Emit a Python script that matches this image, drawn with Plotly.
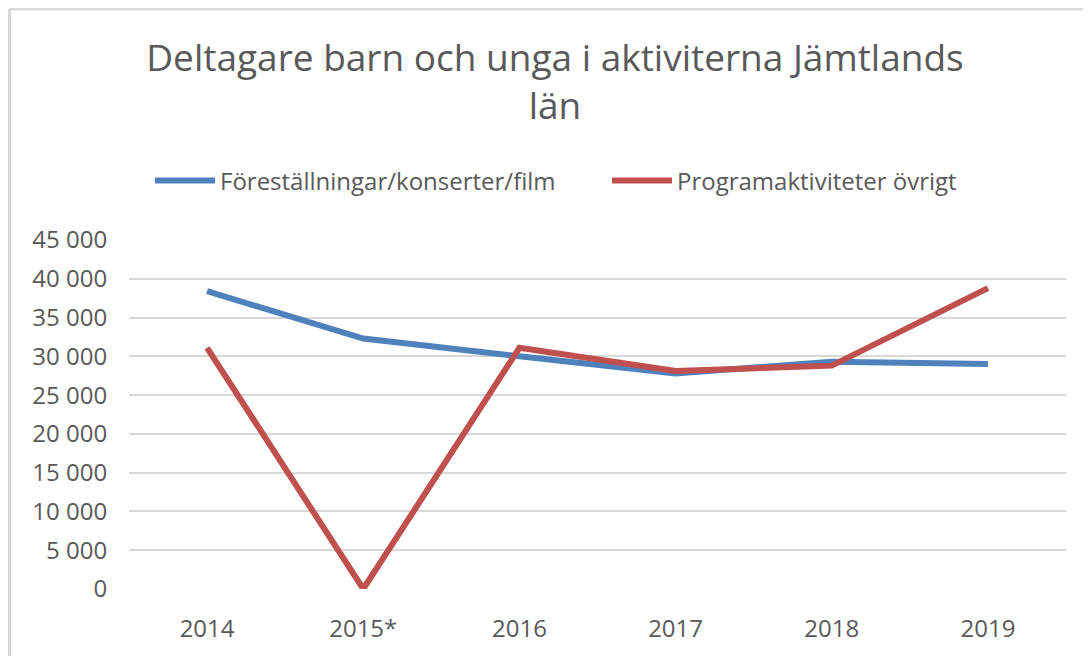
import plotly.graph_objects as go

years = ["2014", "2015*", "2016", "2017", "2018", "2019"]
forestallningar = [38400, 32300, 30000, 27800, 29300, 29000]
programaktiviteter = [31100, 0, 31100, 28100, 28800, 38800]
y_ticks = [0, 5000, 10000, 15000, 20000, 25000, 30000, 35000, 40000, 45000]

# the page places the figure 8px in from the window's top-left corner
OFF = 8
W, H = 1091 - OFF, 656 - OFF
ml, mr, mt, mb = 129 - OFF, 25, 240 - OFF, 67
pw, ph = W - ml - mr, H - mt - mb

def px(sx):
    return (sx - OFF - ml) / pw

def py(sy):
    return (H - mb - (sy - OFF)) / ph

fig = go.Figure()
fig.add_trace(go.Scatter(x=years, y=forestallningar, mode="lines",
                         name="Föreställningar/konserter/film",
                         line=dict(color="#4F81BD", width=6), legend="legend"))
fig.add_trace(go.Scatter(x=years, y=programaktiviteter, mode="lines",
                         name="Programaktiviteter övrigt",
                         line=dict(color="#C0504D", width=6), legend="legend2"))

font_family = "Open Sans, Liberation Sans, sans-serif"
leg_common = dict(font=dict(size=24, color="#595959"), itemwidth=60,
                  bgcolor="rgba(0,0,0,0)", yanchor="middle", xanchor="left")
fig.update_layout(
    width=W, height=H,
    margin=dict(l=ml, r=mr, t=mt, b=mb),
    paper_bgcolor="white", plot_bgcolor="white",
    separators=", ",
    font=dict(family=font_family, color="#595959"),
    title=dict(text="Deltagare barn och unga i aktiviterna Jämtlands<br>län",
               xref="container", yref="container",
               x=(555 - OFF) / W, xanchor="center", y=1 - (71 - OFF) / H, yanchor="middle",
               font=dict(size=37, color="#595959", family=font_family)),
    showlegend=True,
    legend=dict(x=px(150), y=py(181), **leg_common),
    legend2=dict(x=px(607), y=py(181), **leg_common),
    xaxis=dict(type="category", range=[-0.5, 5.5], showgrid=False, showline=False,
               ticks="outside", ticklen=18, tickcolor="rgba(0,0,0,0)",
               tickfont=dict(size=24, color="#595959"), fixedrange=True),
    yaxis=dict(range=[0, 45000], tickvals=y_ticks, tickformat=",d", showgrid=True,
               gridcolor="#D9D9D9", gridwidth=2, zeroline=False, showline=False,
               ticks="outside", ticklen=16, tickcolor="rgba(0,0,0,0)",
               tickfont=dict(size=24, color="#595959"), fixedrange=True),
    shapes=[
        dict(type="line", xref="paper", yref="paper", x0=px(9), x1=px(1091), y0=py(9), y1=py(9),
             line=dict(color="#D9D9D9", width=3)),
        dict(type="line", xref="paper", yref="paper", x0=px(9.5), x1=px(9.5), y0=py(9), y1=py(656),
             line=dict(color="#D9D9D9", width=3)),
    ],
)

fig.write_html("out.html")
